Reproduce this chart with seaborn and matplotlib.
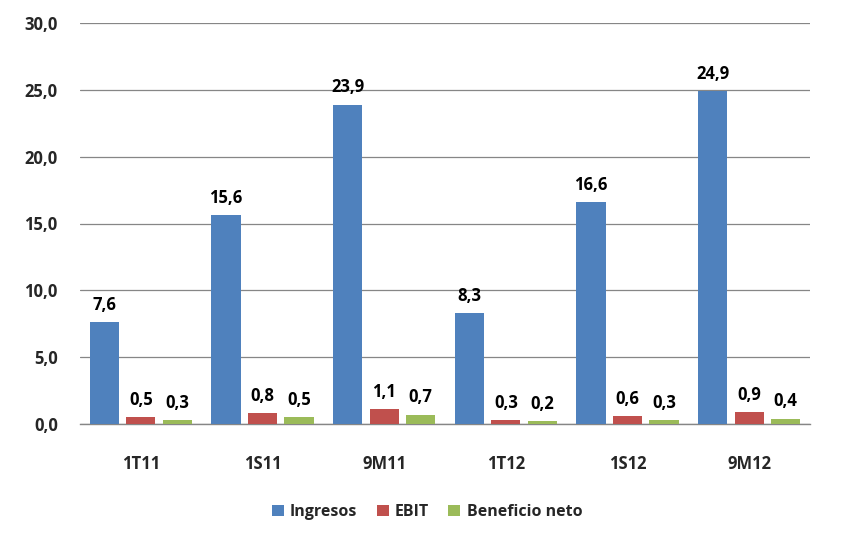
import matplotlib.pyplot as plt
import pandas as pd
import seaborn as sns

periods = ["1T11", "1S11", "9M11", "1T12", "1S12", "9M12"]
ingresos = [7.6, 15.6, 23.9, 8.3, 16.6, 24.9]
ebit = [0.5, 0.8, 1.1, 0.3, 0.6, 0.9]
beneficio = [0.3, 0.5, 0.7, 0.2, 0.3, 0.4]
series_names = ["Ingresos", "EBIT", "Beneficio neto"]
colors = ["#4F81BD", "#C0504D", "#9BBB59"]

df = pd.DataFrame({"periodo": periods, "Ingresos": ingresos, "EBIT": ebit, "Beneficio neto": beneficio})
long_df = df.melt(id_vars="periodo", var_name="serie", value_name="valor")

sns.set_theme(style="white")
plt.rcParams["font.family"] = ["Open Sans", "DejaVu Sans"]

fig = plt.figure(figsize=(8.46, 5.43), dpi=100)
ax = fig.add_axes([80 / 846, 1 - 424 / 543, 730 / 846, 401 / 543])

sns.barplot(data=long_df, x="periodo", y="valor", hue="serie", hue_order=series_names,
            palette=colors, width=0.9, gap=0.2, saturation=1, linewidth=0, ax=ax, zorder=3)

for container in ax.containers:
    ax.bar_label(container, labels=[f"{v:.1f}".replace(".", ",") for v in container.datavalues],
                 padding=6, fontsize=12, fontweight="bold", color="black")

ax.set_ylim(0, 30)
ax.set_yticks([0, 5, 10, 15, 20, 25, 30])
ax.set_yticklabels([f"{t:.1f}".replace(".", ",") for t in [0, 5, 10, 15, 20, 25, 30]],
                   fontsize=12, fontweight="bold")
ax.tick_params(axis="x", labelsize=12, pad=22)
for lbl in ax.get_xticklabels():
    lbl.set_fontweight("bold")
ax.tick_params(axis="y", pad=16, length=0)
ax.tick_params(axis="x", length=0)
ax.set_xlabel("")
ax.set_ylabel("")
ax.yaxis.grid(True, color="#868686", linewidth=0.9, zorder=0)
ax.set_axisbelow(True)
for side in ["top", "right", "left"]:
    ax.spines[side].set_visible(False)
ax.spines["bottom"].set_color("#868686")
ax.spines["bottom"].set_linewidth(1.0)

handles, labels = ax.get_legend_handles_labels()
ax.get_legend().remove()
leg = fig.legend(handles, labels, loc="center", bbox_to_anchor=(427 / 846, 1 - 512 / 543), ncol=3,
                 frameon=False, handlelength=0.75, handleheight=0.75, handletextpad=0.4,
                 columnspacing=1.2, prop={"size": 11.5, "weight": "bold"})

fig.savefig("out.png", dpi=100)
